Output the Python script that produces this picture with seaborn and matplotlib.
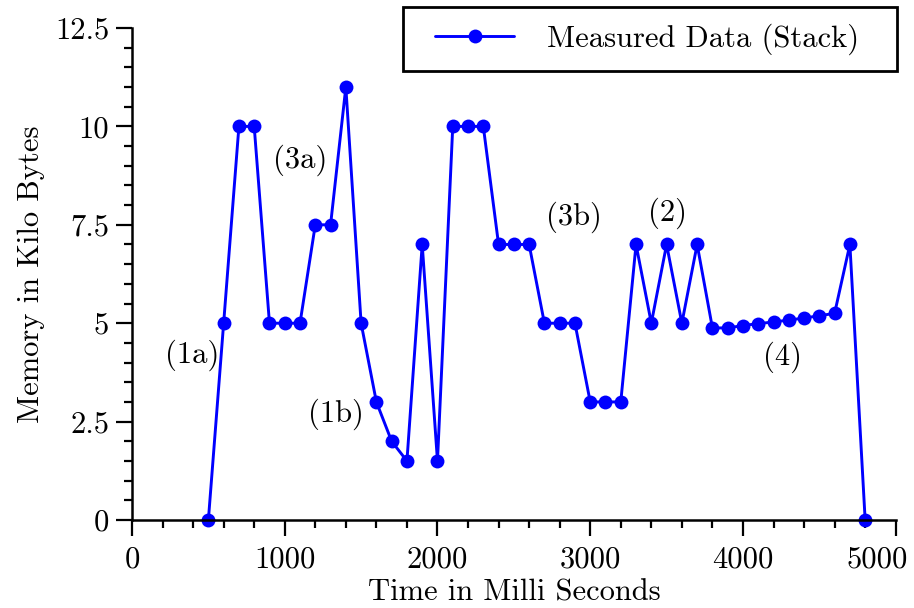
import matplotlib
matplotlib.use("Agg")
import matplotlib.pyplot as plt
import matplotlib.transforms as mtransforms
from matplotlib.patches import Rectangle
from matplotlib.ticker import MultipleLocator
import seaborn as sns
import pandas as pd

time_ms = [500, 600, 700, 800, 900, 1000, 1100, 1200, 1300, 1400,
           1500, 1600, 1700, 1800, 1900, 2000, 2100, 2200, 2300, 2400,
           2500, 2600, 2700, 2800, 2900, 3000, 3100, 3200, 3300, 3400,
           3500, 3600, 3700, 3800, 3900, 4000, 4100, 4200, 4300, 4400,
           4500, 4600, 4700, 4800]
memory_kb = [0, 5, 10, 10, 5, 5, 5, 7.5, 7.5, 11,
             5, 3, 2, 1.5, 7, 1.5, 10, 10, 10, 7,
             7, 7, 5, 5, 5, 3, 3, 3, 7, 5,
             7, 5, 7, 4.88, 4.88, 4.94, 4.99, 5.03, 5.08, 5.13,
             5.19, 5.25, 7, 0]
series_label = "Measured Data (Stack)"
x_ticks = [0, 1000, 2000, 3000, 4000, 5000]
x_ticklabels = ["0", "1000", "2000", "3000", "4000", "5000"]
y_ticks = [0, 2.5, 5, 7.5, 10, 12.5]
y_ticklabels = ["0", "2.5", "5", "7.5", "10", "12.5"]
annot_text = ["(1a)", "(1b)", "(3a)", "(3b)", "(2)", "(4)"]
annot_x = [393, 1336, 1100, 2895, 3504, 4257]
annot_y = [4.19, 2.69, 9.14, 7.69, 7.79, 4.14]

sns.set_theme(style="ticks")
plt.rcParams["font.family"] = ["cmr10", "DejaVu Serif"]
plt.rcParams["axes.formatter.use_mathtext"] = True
plt.rcParams["mathtext.fontset"] = "cm"

df = pd.DataFrame({"t": time_ms, "m": memory_kb})

fig = plt.figure(figsize=(9.14, 6.08), dpi=100)
ax = fig.add_axes([132 / 914, 1 - 520 / 608, (895.7 - 132) / 914, (520 - 28) / 608])

sns.lineplot(data=df, x="t", y="m", ax=ax, color="#0000ff", linewidth=2.1,
             marker="o", markersize=10, markeredgecolor="#0000ff",
             markeredgewidth=0, clip_on=False, legend=False, label=series_label)

ax.set_xlim(0, 5000)
ax.set_ylim(0, 12.5)
ax.xaxis.set_minor_locator(MultipleLocator(200))
ax.yaxis.set_minor_locator(MultipleLocator(0.5))
ax.set_xticks(x_ticks)
ax.set_xticklabels(x_ticklabels)
ax.set_yticks(y_ticks)
ax.set_yticklabels(y_ticklabels)

for side in ["top", "right"]:
    ax.spines[side].set_visible(False)
for side in ["left", "bottom"]:
    ax.spines[side].set_linewidth(1.8)
    ax.spines[side].set_color("black")

fs = 22
ax.tick_params(axis="both", which="major", direction="out", length=11.5,
               width=1.6, color="black", labelsize=fs, labelcolor="black", pad=5)
ax.tick_params(axis="both", which="minor", direction="out", length=6,
               width=1.6, color="black")
ax.tick_params(axis="x", which="major", pad=7)

# last x tick label is pulled left to stay inside the figure
last = ax.get_xticklabels()[-1]
last.set_transform(last.get_transform() +
                   mtransforms.ScaledTranslation(-0.19, 0, fig.dpi_scale_trans))

ax.set_xlabel("Time in Milli Seconds", fontsize=fs, color="black", labelpad=4)
ax.set_ylabel("Memory in Kilo Bytes", fontsize=fs, color="black", labelpad=7)

for t, x, y in zip(annot_text, annot_x, annot_y):
    ax.text(x, y, t, fontsize=fs, ha="center", va="center", color="black")

# legend
leg = ax.legend(loc="center left", bbox_to_anchor=(435 / 914, 1 - 39 / 608),
                bbox_transform=fig.transFigure, frameon=False, fontsize=fs,
                borderpad=0, borderaxespad=0, handlelength=2.6, handletextpad=1.05)
for txt in leg.get_texts():
    txt.set_color("black")
fig.patches.append(Rectangle((403 / 914, 1 - 71 / 608), (897 - 403) / 914, 64 / 608,
                             transform=fig.transFigure, fill=False,
                             edgecolor="black", linewidth=2.0))

fig.savefig("out.png", dpi=100)
